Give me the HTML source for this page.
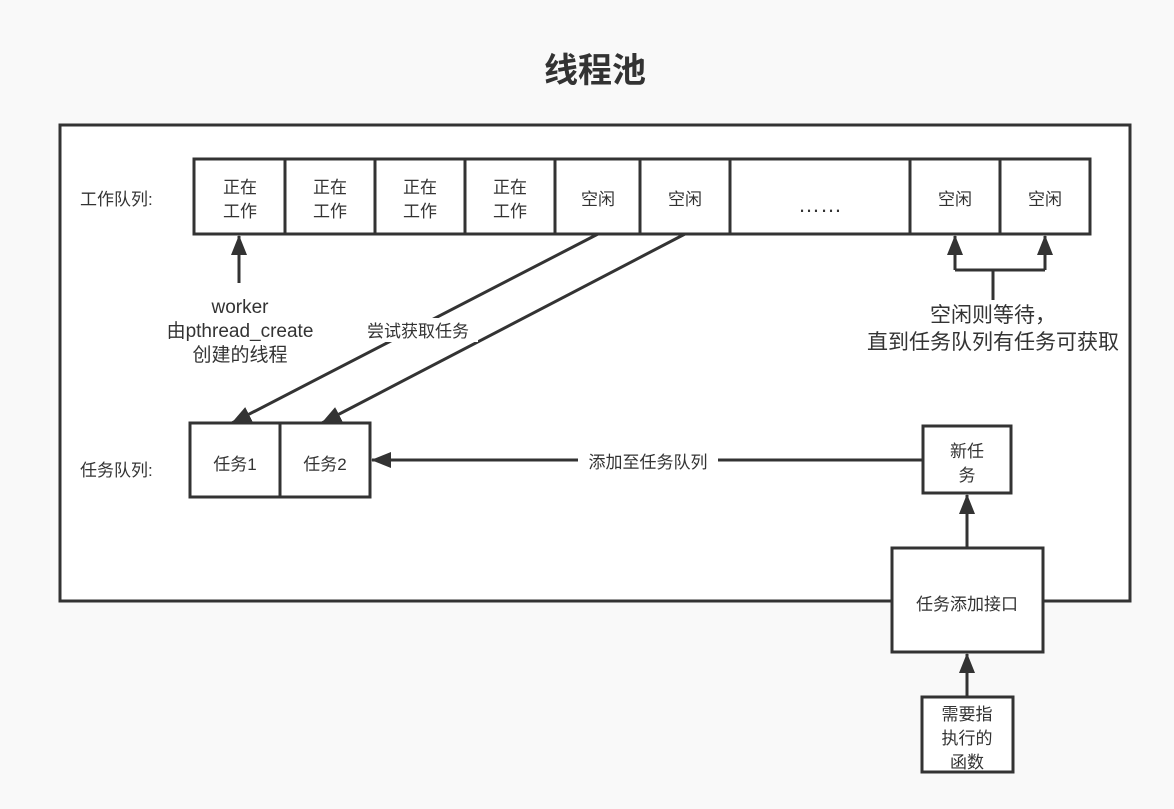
<!DOCTYPE html>
<html><head><meta charset="utf-8"><style>
body{margin:0;background:#f9f9f9;}
svg{display:block;font-family:"Liberation Sans","Noto Sans CJK SC",sans-serif;}
text{fill:#333;font-size:17px;}
</style></head><body>
<svg width="1174" height="809" viewBox="0 0 1174 809">
<defs><marker id="a" markerWidth="10" markerHeight="10" refX="9" refY="5" orient="auto" markerUnits="userSpaceOnUse" viewBox="0 0 10 10"><path d="M0,0 L10,5 L0,10 z" fill="#333"/></marker>
<marker id="b" markerWidth="20" markerHeight="16" refX="19" refY="8" orient="auto" markerUnits="userSpaceOnUse" viewBox="0 0 20 16"><path d="M0,0 L20,8 L0,16 z" fill="#333"/></marker></defs>
<text x="595" y="82" text-anchor="middle" style="font-size:34px;font-weight:bold">线程池</text>
<rect x="60" y="125" width="1070" height="476" fill="#fff" stroke="#333" stroke-width="3"/>
<g fill="#fff" stroke="#333" stroke-width="3">
<rect x="194" y="159" width="896" height="75"/>
<line x1="285" y1="159" x2="285" y2="234"/><line x1="375" y1="159" x2="375" y2="234"/><line x1="465" y1="159" x2="465" y2="234"/><line x1="555" y1="159" x2="555" y2="234"/><line x1="640" y1="159" x2="640" y2="234"/><line x1="730" y1="159" x2="730" y2="234"/><line x1="910" y1="159" x2="910" y2="234"/><line x1="1000" y1="159" x2="1000" y2="234"/>
<rect x="190" y="423" width="180" height="74"/><line x1="280" y1="423" x2="280" y2="497"/>
<rect x="923" y="426" width="88" height="67"/>
<rect x="892" y="548" width="151" height="104"/>
<rect x="922" y="697" width="91" height="75"/>
</g>
<text x="80" y="205">工作队列:</text>
<text x="80" y="476">任务队列:</text>
<g text-anchor="middle">
<text x="240" y="193">正在</text><text x="240" y="217">工作</text>
<text x="330" y="193">正在</text><text x="330" y="217">工作</text>
<text x="420" y="193">正在</text><text x="420" y="217">工作</text>
<text x="510" y="193">正在</text><text x="510" y="217">工作</text>
<text x="598" y="205">空闲</text><text x="685" y="205">空闲</text>
<text x="820" y="212" style="font-size:22px">……</text>
<text x="955" y="205">空闲</text><text x="1045" y="205">空闲</text>
<text x="235" y="470">任务1</text><text x="325" y="470">任务2</text>
<text x="967" y="457">新任</text><text x="967" y="481">务</text>
<text x="967" y="610">任务添加接口</text>
<text x="967" y="720">需要指</text><text x="967" y="744">执行的</text><text x="967" y="768">函数</text>
</g>
<g stroke="#333" stroke-width="3" fill="none">
<line x1="239" y1="283" x2="239" y2="236" marker-end="url(#b)"/>
<line x1="598" y1="234" x2="232" y2="423" marker-end="url(#b)"/>
<line x1="685" y1="234" x2="322" y2="423" marker-end="url(#b)"/>
<path d="M955,270 H1045 M993,270 V300"/>
<line x1="955" y1="270" x2="955" y2="236" marker-end="url(#b)"/>
<line x1="1045" y1="270" x2="1045" y2="236" marker-end="url(#b)"/>
<line x1="923" y1="460" x2="372" y2="460" marker-end="url(#b)"/>
<line x1="967" y1="548" x2="967" y2="495" marker-end="url(#b)"/>
<line x1="967" y1="697" x2="967" y2="654" marker-end="url(#b)"/>
</g>
<rect x="360" y="318" width="118" height="24" fill="#fff"/>
<text x="418" y="337" text-anchor="middle">尝试获取任务</text>
<rect x="578" y="450" width="140" height="22" fill="#fff"/>
<text x="648" y="468" text-anchor="middle">添加至任务队列</text>
<g text-anchor="middle" style="font-size:19px">
<text x="240" y="313" style="font-size:19px">worker</text>
<text x="240" y="337" style="font-size:19px">由pthread_create</text>
<text x="240" y="361" style="font-size:19px">创建的线程</text>
<text x="993" y="322" style="font-size:21px">空闲则等待，</text>
<text x="993" y="349" style="font-size:21px">直到任务队列有任务可获取</text>
</g>
</svg>
</body></html>
